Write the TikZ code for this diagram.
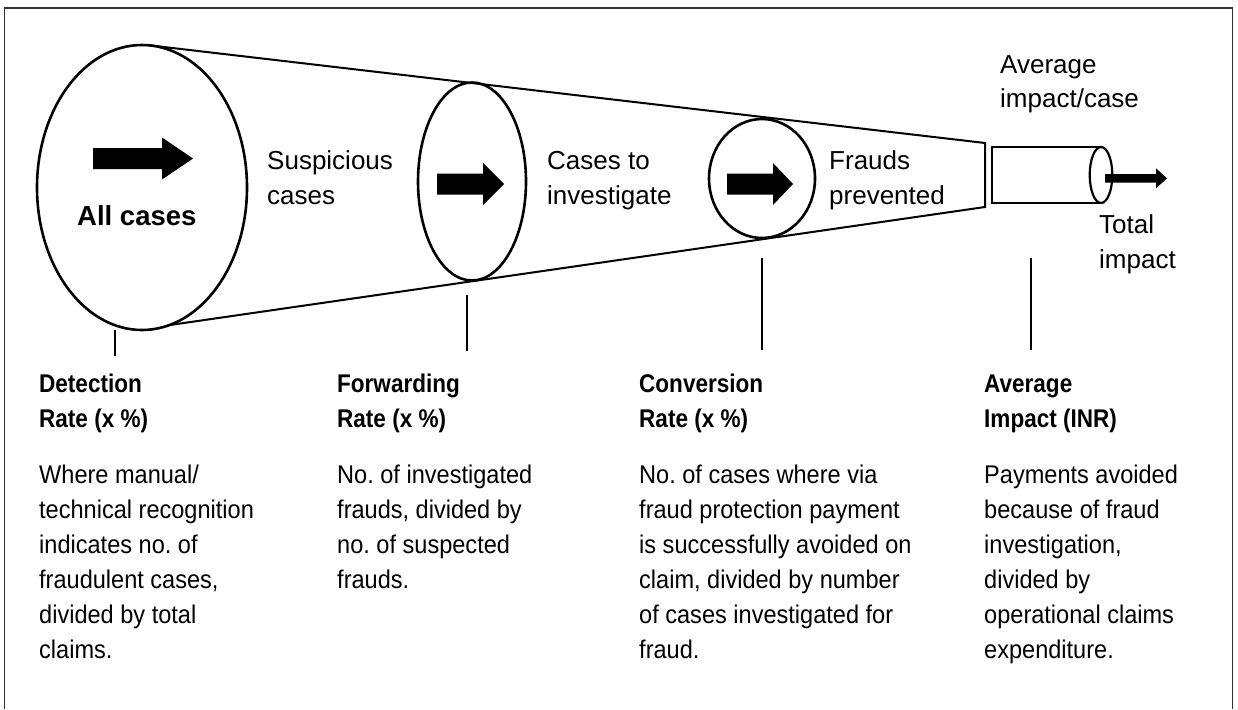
\documentclass[tikz,border=0pt]{standalone}
\usepackage{fontspec}
\setmainfont{Liberation Sans}
\newfontfamily\bodyfont[FakeStretch=0.92]{Liberation Sans}
\newfontfamily\headfont[FakeStretch=0.88]{Liberation Sans}
\frenchspacing
% lines of a block, first baseline on the node's base, fixed 35pt spacing
\newcommand\stacklines[1]{\vtop{\baselineskip=35pt\lineskiplimit=-100pt\lineskip=0pt\halign{##\hfil\cr#1\crcr}}}
% filled block arrow: start x, head x, tip x, centre y, half bar, half head
\newcommand\blockarrow[6]{%
  \fill[black] (#1,#4-#5) -- (#2,#4-#5) -- (#2,#4-#6) -- (#3,#4)
    -- (#2,#4+#6) -- (#2,#4+#5) -- (#1,#4+#5) -- cycle;}

\tikzset{
  lbl/.style={anchor=base west, inner sep=0pt, font=\fontsize{26}{35}\selectfont},
  bodytext/.style={anchor=base west, inner sep=0pt, font=\bodyfont\fontsize{25.6}{35}\selectfont},
  heading/.style={anchor=base west, inner sep=0pt, font=\headfont\bfseries\fontsize{25.6}{35}\selectfont},
  rim/.style={line width=2.6pt},
  funnel/.style={line width=2pt},
  leader/.style={line width=2pt},
  frame/.style={line width=1.3pt, draw=black!80},
}

\begin{document}
\begin{tikzpicture}[x=1pt, y=-1pt]
\useasboundingbox (0,0) rectangle (1238,709);

% outer frame, open at the bottom
\draw[frame] (4.5,709) -- (4.5,8) -- (1232.5,8) -- (1232.5,709);

% funnel outline
\coordinate (ftop) at (151,45.5);
\coordinate (fbot) at (170,325);
\coordinate (etop) at (985,143);
\coordinate (ebot) at (985,207);
\draw[funnel] (ftop) -- (etop) -- (ebot) -- (fbot);

% the three cross sections
\draw[rim, fill=white] (142,187.5) ellipse [x radius=105pt, y radius=142.5pt];
\draw[rim] (472,181.5) ellipse [x radius=54pt, y radius=99pt];
\draw[rim] (762,178.5) ellipse [x radius=53pt, y radius=59.5pt];

% impact cylinder
\draw[rim, line width=2.2pt] (1101,147) -- (992,147) -- (992,203) -- (1101,203);
\draw[rim, line width=2.2pt, fill=white] (1101,175) ellipse [x radius=11.3pt, y radius=28pt];

% flow arrows
\blockarrow{93}{162}{193}{158.5}{10.5}{21}
\blockarrow{437}{483}{504}{184}{10.5}{21}
\blockarrow{727}{773}{793}{184}{10.5}{21}
\blockarrow{1105}{1156}{1167}{178.3}{4.3}{10}

% labels along the funnel
\node[anchor=base west, inner sep=0pt, font=\bfseries\fontsize{27.5}{35}\selectfont] (allcases) at (77,225) {All cases};
\node[lbl] (susp) at (267,169) {\stacklines{Suspicious\cr cases}};
\node[lbl] (inv) at (547,169) {\stacklines{Cases to\cr investigate}};
\node[lbl] (prev) at (829,169) {\stacklines{Frauds\cr prevented}};
\node[lbl] (avgcase) at (1000,73) {\stacklines{Average\cr impact/case}};
\node[lbl] (total) at (1099,233) {\stacklines{Total\cr impact}};

% leader lines to the definitions
\coordinate (l1a) at (115,330); \coordinate (l1b) at (115,356);
\coordinate (l2a) at (467,295); \coordinate (l2b) at (467,351);
\coordinate (l3a) at (762,258); \coordinate (l3b) at (762,350);
\coordinate (l4a) at (1031,258); \coordinate (l4b) at (1031,350);
\draw[leader] (l1a) -- (l1b);
\draw[leader] (l2a) -- (l2b);
\draw[leader] (l3a) -- (l3b);
\draw[leader] (l4a) -- (l4b);

% definitions
\node[heading] (deth) at (39,392) {\stacklines{Detection\cr Rate (x \%)}};
\node[bodytext] (detb) at (39,483) {\stacklines{Where manual/\cr technical recognition\cr indicates no. of\cr fraudulent cases,\cr divided by total\cr claims.}};

\node[heading] (fwdh) at (337,392) {\stacklines{Forwarding\cr Rate (x \%)}};
\node[bodytext] (fwdb) at (337,483) {\stacklines{No. of investigated\cr frauds, divided by\cr no. of suspected\cr frauds.}};

\node[heading] (convh) at (639,392) {\stacklines{Conversion\cr Rate (x \%)}};
\node[bodytext] (convb) at (639,483) {\stacklines{No. of cases where via\cr fraud protection payment\cr is successfully avoided on\cr claim, divided by number\cr of cases investigated for\cr fraud.}};

\node[heading] (avgh) at (984,392) {\stacklines{Average\cr Impact (INR)}};
\node[bodytext] (avgb) at (984,483) {\stacklines{Payments avoided\cr because of fraud\cr investigation,\cr divided by\cr operational claims\cr expenditure.}};
\end{tikzpicture}
\end{document}
